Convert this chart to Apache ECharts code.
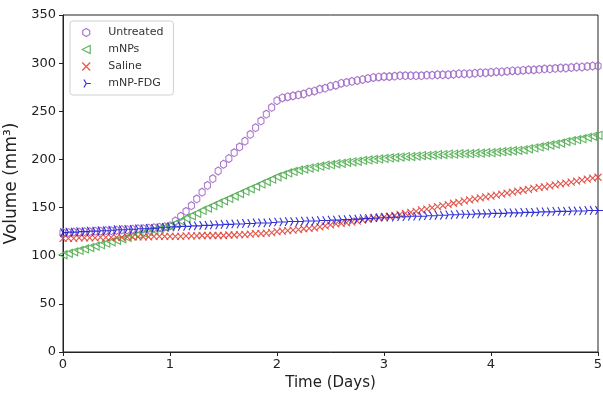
<!DOCTYPE html>
<html>
<head>
<meta charset="utf-8">
<script src="https://cdn.jsdelivr.net/npm/echarts@6/dist/echarts.min.js"></script>
<style>
  html, body {margin: 0; padding: 0; background: #fff;}
  #chart {width: 603px; height: 396px;}
</style>
</head>
<body>
<div id="chart"></div>
<script>
const days = [
  0, 0.05, 0.1, 0.15, 0.2, 0.25, 0.3, 0.35, 0.4, 0.45, 0.5, 0.55, 0.6, 0.65, 0.7, 0.75, 0.8, 0.85, 0.9, 0.95,
  1, 1.05, 1.1, 1.15, 1.2, 1.25, 1.3, 1.35, 1.4, 1.45, 1.5, 1.55, 1.6, 1.65, 1.7, 1.75, 1.8, 1.85, 1.9, 1.95,
  2, 2.05, 2.1, 2.15, 2.2, 2.25, 2.3, 2.35, 2.4, 2.45, 2.5, 2.55, 2.6, 2.65, 2.7, 2.75, 2.8, 2.85, 2.9, 2.95,
  3, 3.05, 3.1, 3.15, 3.2, 3.25, 3.3, 3.35, 3.4, 3.45, 3.5, 3.55, 3.6, 3.65, 3.7, 3.75, 3.8, 3.85, 3.9, 3.95,
  4, 4.05, 4.1, 4.15, 4.2, 4.25, 4.3, 4.35, 4.4, 4.45, 4.5, 4.55, 4.6, 4.65, 4.7, 4.75, 4.8, 4.85, 4.9, 4.95, 5
];
const untreated = [
  124, 124, 124.5, 124.5, 125, 125, 125.5, 125.5, 126, 126, 126.5, 127, 127, 127.5, 128, 128, 128.5, 129, 129.5, 130,
  131, 136, 141, 146, 152, 159, 166, 173, 180, 188, 195, 201, 207, 213, 219, 226, 233, 240, 247, 254,
  261, 264, 265, 266, 267, 268, 270, 271, 273, 274, 276, 277, 279, 280, 281, 282, 283, 284, 285, 285.5,
  286, 286, 286.5, 287, 287, 287, 287, 287, 287.5, 287.5, 288, 288, 288, 288.5, 289, 289, 289, 289.5, 290, 290,
  290.5, 291, 291, 291.5, 292, 292, 292.5, 293, 293, 293.5, 294, 294, 294.5, 295, 295, 295.5, 296, 296, 296.5, 297, 297
];
const mnps = [
  101, 102.5, 104, 105.5, 107, 108.5, 110, 111.5, 113, 114.5, 116, 117.5, 119, 120.5, 122, 123.5, 125, 126.5, 128, 129.5,
  131, 133.5, 136, 139, 141.5, 144, 147, 149.5, 152, 154.5, 157, 159.5, 162, 164.5, 167, 169.5, 172, 174.5, 177, 179.5,
  182, 184, 186, 187.5, 189, 190, 191, 192, 193, 194, 194.5, 195.5, 196, 197, 197.5, 198, 199, 199.5, 200, 200.5,
  201, 201.5, 202, 202.5, 203, 203, 203.5, 204, 204, 204.5, 205, 205, 205.5, 205.5, 206, 206, 206, 206.5, 206.5, 207,
  207, 207.5, 208, 208.5, 209, 209.5, 210, 211, 212, 213, 214, 215, 216, 217, 218.5, 219.5, 220.5, 221.5, 223, 224, 225
];
const saline = [
  118, 118, 118, 118.5, 118.5, 118.5, 118.5, 119, 119, 119, 119, 119, 119.5, 119.5, 119.5, 119.5, 119.5, 120, 120, 120,
  120, 120, 120, 120.5, 120.5, 120.5, 121, 121, 121, 121, 121, 121.5, 121.5, 122, 122, 122.5, 123, 123, 123.5, 124,
  125, 125.5, 126, 126.5, 127, 128, 128.5, 129, 130, 131, 132, 133, 133.5, 134, 135, 136, 137, 138, 139, 139.5,
  140, 141, 142, 143, 144, 145, 146, 147.5, 148.5, 150, 151, 152, 153, 154.5, 155.5, 157, 158, 159, 160, 161,
  162, 163, 164, 165, 166, 167, 168, 169, 170, 171, 171.5, 172.5, 173.5, 174.5, 175.5, 176.5, 177.5, 178.5, 179.5, 180.5, 181.5
];
const mnpFdg = [
  124, 124.5, 124.5, 125, 125, 125.5, 125.5, 126, 126, 126.5, 127, 127, 127.5, 127.5, 128, 128, 128.5, 128.5, 129, 129.5,
  130, 130, 130.5, 130.5, 131, 131, 131.5, 131.5, 132, 132, 132.5, 132.5, 133, 133, 133.5, 133.5, 134, 134, 134, 134.5,
  135, 135, 135.5, 135.5, 135.5, 136, 136, 136, 136.5, 136.5, 137, 137, 137.5, 137.5, 138, 138, 138.5, 138.5, 139, 139.5,
  140, 140, 140, 140.5, 140.5, 141, 141, 141, 141.5, 141.5, 142, 142, 142.5, 142.5, 143, 143, 143, 143.5, 143.5, 143.5,
  144, 144, 144, 144.5, 144.5, 144.5, 145, 145, 145, 145.5, 145.5, 145.5, 146, 146, 146, 146.5, 146.5, 146.5, 147, 147, 147
];
const seriesNames = ['Untreated', 'mNPs', 'Saline', 'mNP-FDG'];
const seriesValues = [untreated, mnps, saline, mnpFdg];
const colors = ['#a068c8', '#52ad52', '#e2443a', '#1c1cd2'];
const symbols = [
  'path://M5,0L9.33,2.5L9.33,7.5L5,10L0.67,7.5L0.67,2.5Z',
  'path://M0,5L10,0L10,10Z',
  'path://M0,0L10,10M10,0L0,10',
  'path://M0,5L0,5M5,5L10,5M5,5L2.5,0.67M5,5L2.5,9.33'
];
const sizes = [[7, 8], 8, 7, 10];

const chart = echarts.init(document.getElementById('chart'), null, {renderer: 'canvas'});
const font = 'DejaVu Sans';

chart.setOption({
  animation: false,
  grid: {
    left: 63, right: 5, top: 15, bottom: 44,
    outerBoundsMode: 'none', containLabel: false,
    show: true, borderColor: '#222', borderWidth: 1
  },
  legend: {
    orient: 'vertical',
    left: 70,
    top: 21,
    padding: [6, 10, 6, 11],
    itemWidth: 24,
    itemHeight: 8,
    itemGap: 6,
    borderColor: '#d0d0d0',
    borderWidth: 1,
    borderRadius: 3,
    backgroundColor: 'rgba(255,255,255,0.85)',
    textStyle: {fontFamily: font, fontSize: 11, color: '#333', padding: [0, 0, 0, 5]},
    data: seriesNames.map((n, i) => ({
      name: n,
      icon: symbols[i],
      itemStyle: {color: 'transparent', borderColor: colors[i], borderWidth: 1.2}
    }))
  },
  xAxis: {
    type: 'value',
    min: 0, max: 5, interval: 1,
    name: 'Time (Days)',
    nameLocation: 'middle',
    nameGap: 20,
    nameTextStyle: {fontFamily: font, fontSize: 15, color: '#222'},
    axisLine: {show: true, lineStyle: {color: '#222'}},
    axisTick: {show: true, length: 4, lineStyle: {color: '#222'}},
    axisLabel: {fontFamily: font, fontSize: 13, color: '#222', margin: 6},
    splitLine: {show: false}
  },
  yAxis: {
    type: 'value',
    min: 0, max: 350, interval: 50,
    name: 'Volume (mm³)',
    nameLocation: 'middle',
    nameGap: 43,
    nameTextStyle: {fontFamily: font, fontSize: 17, color: '#222'},
    axisLine: {show: true, lineStyle: {color: '#222'}},
    axisTick: {show: true, length: 4, lineStyle: {color: '#222'}},
    axisLabel: {fontFamily: font, fontSize: 13, color: '#222', margin: 7},
    splitLine: {show: false}
  },
  series: seriesNames.map((n, i) => ({
    name: n,
    type: 'scatter',
    symbol: symbols[i],
    symbolSize: sizes[i],
    symbolKeepAspect: true,
    itemStyle: {color: 'transparent', borderColor: colors[i], borderWidth: 1.1, opacity: 0.9},
    data: days.map((d, k) => [d, seriesValues[i][k]])
  }))
});
</script>
</body>
</html>
